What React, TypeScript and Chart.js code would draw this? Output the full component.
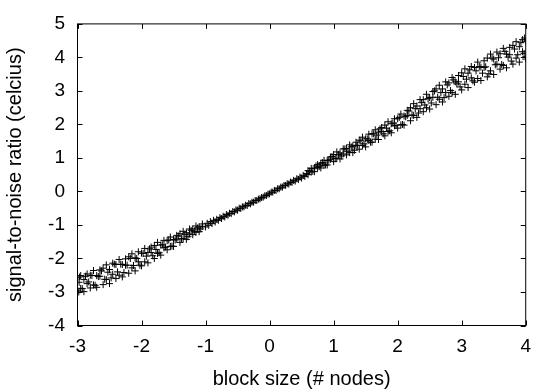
import React, { useEffect, useRef } from "react";
import { Chart, registerables } from "chart.js";

Chart.register(...registerables);

// Left (wide) part of the band: two strands
const leftX = [-3.0, -2.95, -2.9, -2.85, -2.8, -2.75, -2.7, -2.65, -2.6, -2.55, -2.5, -2.45, -2.4, -2.35, -2.3, -2.25, -2.2, -2.15, -2.1, -2.05, -2.0, -1.95, -1.9, -1.85, -1.8, -1.75, -1.7, -1.65, -1.6, -1.55, -1.5, -1.45, -1.4, -1.35, -1.3, -1.25, -1.2, -1.15, -1.1, -1.05];
const leftLower = [-3.02, -2.89, -2.99, -2.75, -2.88, -2.79, -2.86, -2.53, -2.78, -2.63, -2.75, -2.47, -2.6, -2.5, -2.55, -2.2, -2.44, -2.28, -2.37, -2.1, -2.22, -2.1, -2.13, -1.82, -2.0, -1.85, -1.9, -1.68, -1.74, -1.64, -1.64, -1.42, -1.52, -1.41, -1.43, -1.27, -1.29, -1.22, -1.2, -1.04];
const leftUpper = [-2.58, -2.51, -2.63, -2.46, -2.5, -2.36, -2.51, -2.34, -2.29, -2.19, -2.33, -2.14, -2.18, -2.03, -2.18, -2.01, -1.95, -1.86, -1.98, -1.8, -1.84, -1.7, -1.82, -1.66, -1.61, -1.52, -1.6, -1.46, -1.47, -1.36, -1.43, -1.31, -1.26, -1.19, -1.23, -1.12, -1.12, -1.03, -1.06, -0.97];
// Left part: in-between points
const leftMidX = [-2.975, -2.925, -2.875, -2.825, -2.775, -2.725, -2.675, -2.625, -2.575, -2.525, -2.475, -2.425, -2.375, -2.325, -2.275, -2.225, -2.175, -2.125, -2.075, -2.025, -1.975, -1.925, -1.875, -1.825, -1.775, -1.725, -1.675, -1.625, -1.575, -1.525, -1.475, -1.425, -1.375, -1.325, -1.275, -1.225, -1.175, -1.125, -1.075];
const leftMidY = [-2.71, -2.9, -2.53, -2.7, -2.51, -2.8, -2.54, -2.37, -2.62, -2.41, -2.58, -2.17, -2.4, -2.17, -2.42, -2.2, -2.0, -2.21, -2.0, -2.2, -1.85, -1.93, -1.71, -1.92, -1.73, -1.83, -1.59, -1.66, -1.45, -1.63, -1.45, -1.33, -1.41, -1.28, -1.35, -1.16, -1.19, -1.09, -1.12];

// Middle (narrow) part of the band
const midX = [-1.0, -0.975, -0.95, -0.925, -0.9, -0.875, -0.85, -0.825, -0.8, -0.775, -0.75, -0.725, -0.7, -0.675, -0.65, -0.625, -0.6, -0.575, -0.55, -0.525, -0.5, -0.475, -0.45, -0.425, -0.4, -0.375, -0.35, -0.325, -0.3, -0.275, -0.25, -0.225, -0.2, -0.175, -0.15, -0.125, -0.1, -0.075, -0.05, -0.025, 0.0, 0.025, 0.05, 0.075, 0.1, 0.125, 0.15, 0.175, 0.2, 0.225, 0.25, 0.275, 0.3, 0.325, 0.35, 0.375, 0.4, 0.425, 0.45, 0.475, 0.5, 0.525, 0.55, 0.575];
const midY = [-1.06, -0.95, -1.01, -0.9, -0.96, -0.86, -0.91, -0.83, -0.86, -0.78, -0.81, -0.74, -0.76, -0.69, -0.71, -0.65, -0.66, -0.6, -0.61, -0.55, -0.56, -0.5, -0.51, -0.46, -0.46, -0.41, -0.42, -0.36, -0.37, -0.32, -0.32, -0.27, -0.27, -0.23, -0.22, -0.18, -0.17, -0.13, -0.12, -0.08, -0.07, -0.02, -0.02, 0.03, 0.03, 0.08, 0.08, 0.13, 0.13, 0.18, 0.18, 0.23, 0.22, 0.28, 0.27, 0.33, 0.31, 0.38, 0.36, 0.43, 0.4, 0.48, 0.45, 0.53];

// Right (widening) part of the band: two strands
const rightX = [0.6, 0.65, 0.7, 0.75, 0.8, 0.85, 0.9, 0.95, 1.0, 1.05, 1.1, 1.15, 1.2, 1.25, 1.3, 1.35, 1.4, 1.45, 1.5, 1.55, 1.6, 1.65, 1.7, 1.75, 1.8, 1.85, 1.9, 1.95, 2.0, 2.05, 2.1, 2.15, 2.2, 2.25, 2.3, 2.35, 2.4, 2.45, 2.5, 2.55, 2.6, 2.65, 2.7, 2.75, 2.8, 2.85, 2.9, 2.95, 3.0, 3.05, 3.1, 3.15, 3.2, 3.25, 3.3, 3.35, 3.4, 3.45, 3.5, 3.55, 3.6, 3.65, 3.7, 3.75, 3.8, 3.85, 3.9, 3.95, 4.0];
const rightLower = [0.5, 0.58, 0.59, 0.71, 0.7, 0.78, 0.79, 0.96, 0.89, 0.99, 0.97, 1.12, 1.09, 1.16, 1.16, 1.37, 1.26, 1.37, 1.33, 1.52, 1.47, 1.56, 1.55, 1.79, 1.66, 1.79, 1.75, 1.96, 1.89, 1.99, 1.98, 2.27, 2.11, 2.27, 2.21, 2.47, 2.38, 2.5, 2.46, 2.81, 2.59, 2.75, 2.67, 2.95, 2.84, 2.95, 2.9, 3.27, 3.03, 3.2, 3.1, 3.39, 3.26, 3.37, 3.31, 3.7, 3.42, 3.6, 3.49, 3.8, 3.65, 3.76, 3.69, 4.08, 3.8, 3.98, 3.86, 4.17, 4.02];
const rightUpper = [0.62, 0.69, 0.7, 0.8, 0.84, 0.93, 0.92, 1.03, 1.1, 1.18, 1.15, 1.27, 1.28, 1.39, 1.35, 1.47, 1.53, 1.62, 1.57, 1.71, 1.72, 1.84, 1.77, 1.91, 1.98, 2.08, 2.02, 2.17, 2.17, 2.31, 2.25, 2.42, 2.5, 2.62, 2.55, 2.74, 2.74, 2.9, 2.8, 2.98, 3.06, 3.17, 3.06, 3.27, 3.24, 3.4, 3.27, 3.46, 3.54, 3.66, 3.53, 3.73, 3.7, 3.86, 3.71, 3.9, 3.98, 4.1, 3.95, 4.16, 4.11, 4.27, 4.1, 4.3, 4.36, 4.47, 4.32, 4.53, 4.48];
// Right part: in-between points
const rightMidX = [0.625, 0.675, 0.725, 0.775, 0.825, 0.875, 0.925, 0.975, 1.025, 1.075, 1.125, 1.175, 1.225, 1.275, 1.325, 1.375, 1.425, 1.475, 1.525, 1.575, 1.625, 1.675, 1.725, 1.775, 1.825, 1.875, 1.925, 1.975, 2.025, 2.075, 2.125, 2.175, 2.225, 2.275, 2.325, 2.375, 2.425, 2.475, 2.525, 2.575, 2.625, 2.675, 2.725, 2.775, 2.825, 2.875, 2.925, 2.975, 3.025, 3.075, 3.125, 3.175, 3.225, 3.275, 3.325, 3.375, 3.425, 3.475, 3.525, 3.575, 3.625, 3.675, 3.725, 3.775, 3.825, 3.875, 3.925, 3.975];
const rightMidY = [0.61, 0.6, 0.76, 0.74, 0.86, 0.79, 0.93, 1.04, 0.98, 1.1, 1.06, 1.27, 1.2, 1.33, 1.23, 1.38, 1.51, 1.42, 1.57, 1.47, 1.72, 1.68, 1.87, 1.72, 1.89, 1.81, 2.04, 1.97, 2.21, 2.0, 2.23, 2.4, 2.28, 2.47, 2.34, 2.65, 2.58, 2.77, 2.64, 3.0, 2.81, 2.95, 2.8, 3.18, 3.01, 3.33, 3.21, 3.12, 3.43, 3.35, 3.63, 3.3, 3.6, 3.73, 3.53, 3.72, 3.51, 3.98, 3.78, 3.99, 3.79, 4.18, 4.01, 3.89, 4.25, 4.08, 4.44, 4.12];

// A few extra points at the ends
const extraX = [-3.0, -2.98, -2.97, 3.98, 4.0];
const extraY = [-2.95, -3.0, -2.55, 4.58, 3.95];

const xTitle = "block size (# nodes)";
const yTitle = "signal-to-noise ratio (celcius)";
const xMin = -3, xMax = 4;
const yMin = -4, yMax = 5;

const FONT = "'Liberation Sans', Arial, Helvetica, sans-serif";
const TICK_LEN = 5;

const frameTicks = {
  id: "frameTicks",
  afterDraw(chart: any) {
    const { ctx, chartArea, scales } = chart;
    const { left, right, top, bottom } = chartArea;
    const xs = scales.x;
    const ys = scales.y;
    ctx.save();
    ctx.strokeStyle = "#000";
    ctx.lineWidth = 1;
    ctx.beginPath();
    xs.ticks.forEach((_t: any, i: number) => {
      const px = Math.round(xs.getPixelForTick(i)) + 0.5;
      ctx.moveTo(px, bottom);
      ctx.lineTo(px, bottom - TICK_LEN);
      ctx.moveTo(px, top);
      ctx.lineTo(px, top + TICK_LEN);
    });
    ys.ticks.forEach((_t: any, i: number) => {
      const py = Math.round(ys.getPixelForTick(i)) + 0.5;
      ctx.moveTo(left, py);
      ctx.lineTo(left + TICK_LEN, py);
      ctx.moveTo(right, py);
      ctx.lineTo(right - TICK_LEN, py);
    });
    ctx.stroke();
    ctx.strokeRect(left, top, right - left, bottom - top);
    ctx.restore();
  },
};

export default function App() {
  const ref = useRef<HTMLCanvasElement>(null);

  useEffect(() => {
    if (!ref.current) return;
    const pts: { x: number; y: number }[] = [];
    leftX.forEach((x, i) => {
      pts.push({ x, y: leftLower[i] });
      pts.push({ x, y: leftUpper[i] });
    });
    leftMidX.forEach((x, i) => pts.push({ x, y: leftMidY[i] }));
    midX.forEach((x, i) => pts.push({ x, y: midY[i] }));
    rightX.forEach((x, i) => {
      pts.push({ x, y: rightLower[i] });
      pts.push({ x, y: rightUpper[i] });
    });
    rightMidX.forEach((x, i) => pts.push({ x, y: rightMidY[i] }));
    extraX.forEach((x, i) => pts.push({ x, y: extraY[i] }));

    const chart = new Chart(ref.current, {
      type: "scatter",
      data: {
        datasets: [
          {
            data: pts,
            pointStyle: "cross",
            pointRadius: 3.5,
            pointHoverRadius: 3.5,
            borderWidth: 1,
            pointBorderWidth: 1,
            borderColor: "#000",
            backgroundColor: "#000",
          },
        ],
      },
      options: {
        animation: false,
        responsive: false,
        events: [],
        layout: { padding: { top: 15.5, right: 8.5, left: 0, bottom: 0 } },
        plugins: { legend: { display: false }, tooltip: { enabled: false } },
        scales: {
          x: {
            type: "linear",
            min: xMin,
            max: xMax,
            afterFit: (s: any) => {
              s.height = 66.5;
            },
            grid: { display: false, drawTicks: false },
            border: { display: false },
            ticks: {
              stepSize: 1,
              padding: 10,
              color: "#000",
              font: { family: FONT, size: 19 },
            },
            title: {
              display: true,
              text: xTitle,
              color: "#000",
              font: { family: FONT, size: 20 },
              padding: { top: 0, bottom: 0.5 },
            },
          },
          y: {
            type: "linear",
            min: yMin,
            max: yMax,
            afterFit: (s: any) => {
              s.width = 77.5;
            },
            grid: { display: false, drawTicks: false },
            border: { display: false },
            ticks: {
              stepSize: 1,
              padding: 12.5,
              color: "#000",
              font: { family: FONT, size: 19 },
            },
            title: {
              display: true,
              text: yTitle,
              color: "#000",
              font: { family: FONT, size: 20 },
              padding: { top: 3.5, bottom: 0 },
            },
          },
        },
      },
      plugins: [frameTicks],
    });
    return () => chart.destroy();
  }, []);

  return (
    <div style={{ position: "absolute", left: 0, top: 0, width: 541, height: 392, background: "#fff" }}>
      <canvas ref={ref} width={541} height={392} style={{ display: "block" }} />
    </div>
  );
}
